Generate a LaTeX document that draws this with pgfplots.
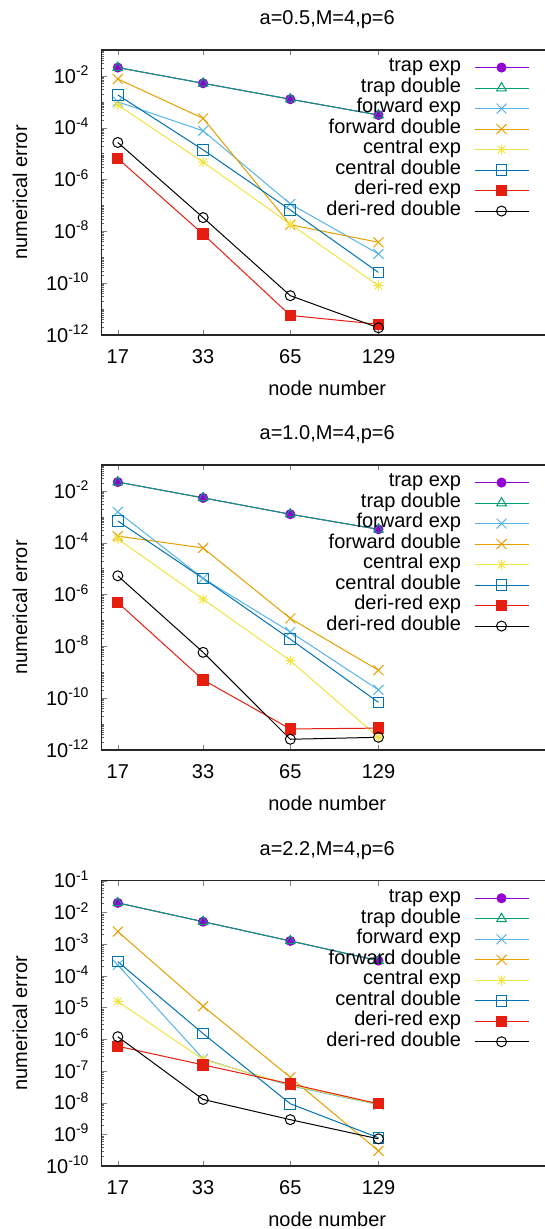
\documentclass[border=0pt]{standalone}
\usepackage{fontspec}
\setmainfont{Liberation Sans}
\usepackage{pgfplots}
\usepackage{pgfplotstable}
\pgfplotsset{compat=1.18}

\definecolor{gpurple}{HTML}{9400D3}
\definecolor{ggreen}{HTML}{009E73}
\definecolor{glblue}{HTML}{56B4E9}
\definecolor{gorange}{HTML}{E69F00}
\definecolor{gyellow}{HTML}{F0E442}
\definecolor{gblue}{HTML}{0072B2}
\definecolor{gred}{HTML}{E51E10}

\pgfdeclareplotmark{gstar}{%
 \pgfpathmoveto{\pgfqpoint{-\pgfplotmarksize}{0pt}}\pgfpathlineto{\pgfqpoint{\pgfplotmarksize}{0pt}}%
 \pgfpathmoveto{\pgfqpoint{0pt}{-\pgfplotmarksize}}\pgfpathlineto{\pgfqpoint{0pt}{\pgfplotmarksize}}%
 \pgfpathmoveto{\pgfqpoint{-.75\pgfplotmarksize}{-.75\pgfplotmarksize}}\pgfpathlineto{\pgfqpoint{.75\pgfplotmarksize}{.75\pgfplotmarksize}}%
 \pgfpathmoveto{\pgfqpoint{-.75\pgfplotmarksize}{.75\pgfplotmarksize}}\pgfpathlineto{\pgfqpoint{.75\pgfplotmarksize}{-.75\pgfplotmarksize}}%
 \pgfusepathqstroke}

\newcommand\tp[1]{10\raisebox{7.6pt}{\fontsize{14}{14}\selectfont #1}}

\pgfplotstableread{
N   te      td      fe      fd      ce      cd      de      dd
17  2.1e-2  2.1e-2  1.0e-3  7.6e-3  7.6e-4  1.85e-3 6.5e-6  2.7e-5
33  5.2e-3  5.2e-3  7.6e-5  2.3e-4  4.7e-6  1.4e-5  7.8e-9  3.4e-8
65  1.26e-3 1.26e-3 1.15e-7 1.8e-8  1.9e-8  6.7e-8  5.7e-12 3.3e-11
129 3.1e-4  3.1e-4  1.35e-9 3.8e-9  8e-11   2.6e-10 2.6e-12 1.9e-12
}\tabA
\pgfplotstableread{
N   te      td      fe      fd      ce      cd      de      dd
17  2.2e-2  2.2e-2  1.55e-3 1.8e-4  1.4e-4  6.9e-4  4.9e-7  5.3e-6
33  5.4e-3  5.4e-3  4.2e-6  6.3e-5  6.6e-7  4.2e-6  5.1e-10 5.9e-9
65  1.26e-3 1.26e-3 3.6e-8  1.2e-7  2.8e-9  1.9e-8  6.5e-12 2.6e-12
129 3.3e-4  3.3e-4  2.1e-10 1.2e-9  3.1e-12 6.9e-11 7e-12   3.1e-12
}\tabB
\pgfplotstableread{
N   te      td      fe      fd      ce      cd      de      dd
17  2.0e-2  2.0e-2  2.2e-4  2.5e-3  1.55e-5 2.8e-4  6.0e-7  1.2e-6
33  5.1e-3  5.1e-3  2.4e-7  1.1e-5  2.3e-7  1.5e-6  1.55e-7 1.26e-8
65  1.26e-3 1.26e-3 3.4e-8  6.3e-8  3.6e-8  9.2e-9  3.9e-8  2.9e-9
129 3.0e-4  3.0e-4  8.6e-9  3.0e-10 8.8e-9  7.8e-10 9.2e-9  7.2e-10
}\tabC

\pgfplotsset{
  scale only axis, width=451pt, height=285pt,
  xmin=15, xmax=500,
  xtick={17,33,65,129}, xticklabels={17,33,65,129},
  tick align=inside,
  major tick length=5pt, minor tick length=2.5pt,
  axis line style={line width=1.2pt, black!85},
  minor tick style={black!60, line width=0.5pt},
  xticklabel style={anchor=center, inner sep=0pt, yshift=-22pt},
  yticklabel style={anchor=base east, inner sep=0pt, xshift=-13pt, yshift=-7.2pt},
  xlabel style={at={(axis description cs:0.5,-0.186)}, anchor=center},
  ylabel style={at={(axis description cs:-0.1812,0.5)}, anchor=center},
  title style={at={(axis description cs:0.5,1.0842)}, anchor=center, inner sep=0pt},
  legend plot pos=right,
  legend cell align=right,
  legend style={draw=none, fill=none, at={(axis description cs:0.9475,0.9744)}, anchor=north east,
    inner sep=0pt, outer sep=0pt, row sep=0pt, column sep=13pt,
    nodes={inner sep=0pt, text height=14.5pt, text depth=6pt}},
  legend image code/.code={\draw[mark repeat=2,mark phase=2,#1] plot coordinates {(0pt,0pt) (27pt,0pt) (54pt,0pt)};},
}
\pgfplotsset{every axis plot/.append style={line width=1pt, mark options={solid, line width=1pt}}}

\newcommand\allplots[1]{%
  \addplot[gpurple, mark=*, mark size=4.5pt] table[x=N,y=te] {#1};
  \addlegendentry{trap exp}
  \addplot[ggreen, mark=triangle, mark size=5.5pt] table[x=N,y=td] {#1};
  \addlegendentry{trap double}
  \addplot[glblue, mark=x, mark size=7pt] table[x=N,y=fe] {#1};
  \addlegendentry{forward exp}
  \addplot[gorange, mark=x, mark size=7pt] table[x=N,y=fd] {#1};
  \addlegendentry{forward double}
  \addplot[gyellow, mark=gstar, mark size=5pt] table[x=N,y=ce] {#1};
  \addlegendentry{central exp}
  \addplot[gblue, mark=square, mark size=5.3pt] table[x=N,y=cd] {#1};
  \addlegendentry{central double}
  \addplot[gred, mark=square*, mark size=5.2pt] table[x=N,y=de] {#1};
  \addlegendentry{deri-red exp}
  \addplot[black, mark=o, mark size=5pt] table[x=N,y=dd] {#1};
  \addlegendentry{deri-red double}
}

\begin{document}
\fontsize{20}{24}\selectfont
\begin{tikzpicture}
\begin{loglogaxis}[at={(101.7pt,-335pt)}, anchor=south west,
  title={a=0.5,M=4,p=6}, xlabel={node number}, ylabel={numerical error},
  ymin=1e-12, ymax=1e-1,
  ytick={1e-12,1e-10,1e-8,1e-6,1e-4,1e-2},
  yticklabels={\tp{-12},\tp{-10},\tp{-8},\tp{-6},\tp{-4},\tp{-2}},
  minor ytick={1e-11,1e-9,1e-7,1e-5,1e-3,1e-1,
  2e-12,3e-12,4e-12,5e-12,6e-12,7e-12,8e-12,9e-12,
  2e-11,3e-11,4e-11,5e-11,6e-11,7e-11,8e-11,9e-11,
  2e-10,3e-10,4e-10,5e-10,6e-10,7e-10,8e-10,9e-10,
  2e-9,3e-9,4e-9,5e-9,6e-9,7e-9,8e-9,9e-9,
  2e-8,3e-8,4e-8,5e-8,6e-8,7e-8,8e-8,9e-8,
  2e-7,3e-7,4e-7,5e-7,6e-7,7e-7,8e-7,9e-7,
  2e-6,3e-6,4e-6,5e-6,6e-6,7e-6,8e-6,9e-6,
  2e-5,3e-5,4e-5,5e-5,6e-5,7e-5,8e-5,9e-5,
  2e-4,3e-4,4e-4,5e-4,6e-4,7e-4,8e-4,9e-4,
  2e-3,3e-3,4e-3,5e-3,6e-3,7e-3,8e-3,9e-3,
  2e-2,3e-2,4e-2,5e-2,6e-2,7e-2,8e-2,9e-2}]
\allplots{\tabA}
\end{loglogaxis}
\begin{loglogaxis}[at={(101.7pt,-750pt)}, anchor=south west,
  title={a=1.0,M=4,p=6}, xlabel={node number}, ylabel={numerical error},
  ymin=1e-12, ymax=1e-1,
  ytick={1e-12,1e-10,1e-8,1e-6,1e-4,1e-2},
  yticklabels={\tp{-12},\tp{-10},\tp{-8},\tp{-6},\tp{-4},\tp{-2}},
  minor ytick={1e-11,1e-9,1e-7,1e-5,1e-3,1e-1,
  2e-12,3e-12,4e-12,5e-12,6e-12,7e-12,8e-12,9e-12,
  2e-11,3e-11,4e-11,5e-11,6e-11,7e-11,8e-11,9e-11,
  2e-10,3e-10,4e-10,5e-10,6e-10,7e-10,8e-10,9e-10,
  2e-9,3e-9,4e-9,5e-9,6e-9,7e-9,8e-9,9e-9,
  2e-8,3e-8,4e-8,5e-8,6e-8,7e-8,8e-8,9e-8,
  2e-7,3e-7,4e-7,5e-7,6e-7,7e-7,8e-7,9e-7,
  2e-6,3e-6,4e-6,5e-6,6e-6,7e-6,8e-6,9e-6,
  2e-5,3e-5,4e-5,5e-5,6e-5,7e-5,8e-5,9e-5,
  2e-4,3e-4,4e-4,5e-4,6e-4,7e-4,8e-4,9e-4,
  2e-3,3e-3,4e-3,5e-3,6e-3,7e-3,8e-3,9e-3,
  2e-2,3e-2,4e-2,5e-2,6e-2,7e-2,8e-2,9e-2}]
\allplots{\tabB}
\end{loglogaxis}
\begin{loglogaxis}[at={(101.7pt,-1166pt)}, anchor=south west, height=285.3pt,
  title={a=2.2,M=4,p=6}, xlabel={node number}, ylabel={numerical error},
  ymin=1e-10, ymax=1e-1,
  ytick={1e-10,1e-9,1e-8,1e-7,1e-6,1e-5,1e-4,1e-3,1e-2,1e-1},
  yticklabels={\tp{-10},\tp{-9},\tp{-8},\tp{-7},\tp{-6},\tp{-5},\tp{-4},\tp{-3},\tp{-2},\tp{-1}},
  minor ytick={
  2e-10,3e-10,4e-10,5e-10,6e-10,7e-10,8e-10,9e-10,
  2e-9,3e-9,4e-9,5e-9,6e-9,7e-9,8e-9,9e-9,
  2e-8,3e-8,4e-8,5e-8,6e-8,7e-8,8e-8,9e-8,
  2e-7,3e-7,4e-7,5e-7,6e-7,7e-7,8e-7,9e-7,
  2e-6,3e-6,4e-6,5e-6,6e-6,7e-6,8e-6,9e-6,
  2e-5,3e-5,4e-5,5e-5,6e-5,7e-5,8e-5,9e-5,
  2e-4,3e-4,4e-4,5e-4,6e-4,7e-4,8e-4,9e-4,
  2e-3,3e-3,4e-3,5e-3,6e-3,7e-3,8e-3,9e-3,
  2e-2,3e-2,4e-2,5e-2,6e-2,7e-2,8e-2,9e-2}]
\allplots{\tabC}
\end{loglogaxis}
\pgfresetboundingbox
\useasboundingbox (0pt,0pt) rectangle (545pt,-1229pt);
\end{tikzpicture}
\end{document}
